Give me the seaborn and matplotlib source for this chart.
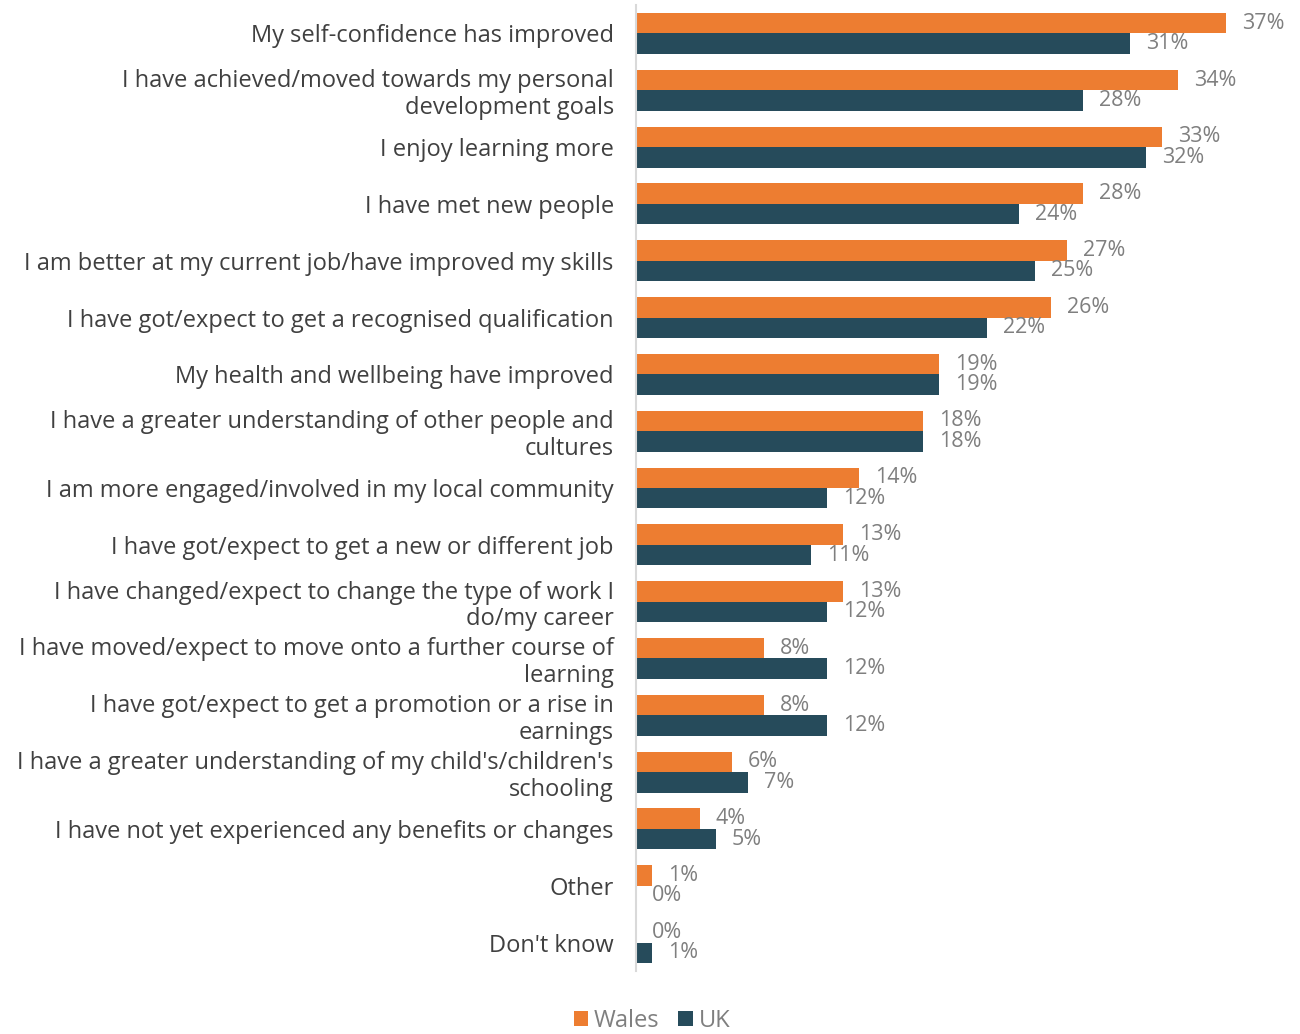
import matplotlib
matplotlib.use("Agg")
import matplotlib.pyplot as plt
from matplotlib.patches import Patch
import seaborn as sns
import pandas as pd

categories = [
    "My self-confidence has improved",
    "I have achieved/moved towards my personal\ndevelopment goals",
    "I enjoy learning more",
    "I have met new people",
    "I am better at my current job/have improved my skills",
    "I have got/expect to get a recognised qualification",
    "My health and wellbeing have improved",
    "I have a greater understanding of other people and\ncultures",
    "I am more engaged/involved in my local community",
    "I have got/expect to get a new or different job",
    "I have changed/expect to change the type of work I\ndo/my career",
    "I have moved/expect to move onto a further course of\nlearning",
    "I have got/expect to get a promotion or a rise in\nearnings",
    "I have a greater understanding of my child's/children's\nschooling",
    "I have not yet experienced any benefits or changes",
    "Other",
    "Don't know",
]
wales = [37, 34, 33, 28, 27, 26, 19, 18, 14, 13, 13, 8, 8, 6, 4, 1, 0]
uk = [31, 28, 32, 24, 25, 22, 19, 18, 12, 11, 12, 12, 12, 7, 5, 0, 1]
series_names = ["Wales", "UK"]
colors = ["#ED7D31", "#264B5B"]

df = pd.DataFrame({
    "category": categories * 2,
    "value": wales + uk,
    "series": [series_names[0]] * len(categories) + [series_names[1]] * len(categories),
})

sns.set_theme(style="white")
plt.rcParams["font.family"] = ["Open Sans", "DejaVu Sans"]

W, H = 1300, 1034
fig = plt.figure(figsize=(W / 100, H / 100), dpi=100)
ax = fig.add_axes([636 / W, (H - 971) / H, 654 / W, (971 - 5) / H])

sns.barplot(data=df, y="category", x="value", hue="series", order=categories,
            hue_order=series_names, palette=colors, orient="h", width=0.72,
            saturation=1, linewidth=0, legend=False, ax=ax)

for container in ax.containers:
    ax.bar_label(container, labels=[f"{v:.0f}%" for v in container.datavalues],
                 padding=11.5, color="#7F7F7F", fontsize=15.5)

ax.set_xlim(0, 41)
ax.set_xlabel("")
ax.set_ylabel("")
ax.set_xticks([])
for side in ["top", "right", "bottom"]:
    ax.spines[side].set_visible(False)
ax.spines["left"].set_color("#D9D9D9")
ax.spines["left"].set_linewidth(1.5)
ax.tick_params(axis="y", length=0, pad=16, labelsize=17, labelcolor="#404040")
for lbl in ax.get_yticklabels():
    lbl.set_horizontalalignment("right")
    lbl.set_linespacing(1.15)

handles = [Patch(facecolor=c, edgecolor="none") for c in colors]
fig.legend(handles, series_names, loc="center", bbox_to_anchor=(652 / W, (H - 1021) / H),
           ncol=2, frameon=False, handlelength=0.6, handleheight=0.6,
           handletextpad=0.25, columnspacing=0.8, fontsize=17, labelcolor="#7F7F7F")

fig.savefig("out.png", dpi=100)
